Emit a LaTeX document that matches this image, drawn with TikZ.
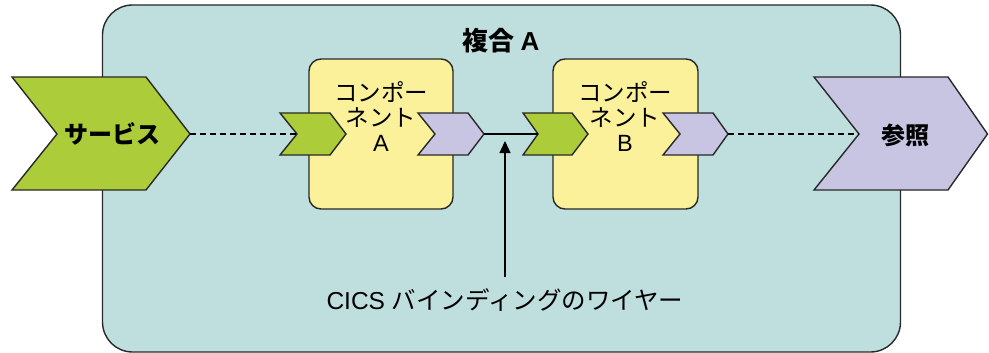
\documentclass[tikz,border=0pt]{standalone}
\usepackage{fontspec}
\setmainfont{Liberation Sans}
\newfontfamily\cjk{Noto Sans CJK JP}
\usetikzlibrary{arrows.meta}
\definecolor{compbg}{RGB}{191,223,223}
\definecolor{chgreen}{RGB}{173,204,58}
\definecolor{chpurple}{RGB}{200,197,226}
\definecolor{compyellow}{RGB}{251,241,155}
\definecolor{edge}{RGB}{40,40,40}
\begin{document}
\begin{tikzpicture}[x=1pt,y=-1pt,
  outline/.style={draw=edge,line width=1.4pt,line join=miter},
  greenchev/.style={outline,fill=chgreen},
  purplechev/.style={outline,fill=chpurple},
  compbox/.style={outline,fill=compyellow,rounded corners=12pt},
  complabel/.style={align=center,inner sep=0pt,font=\fontsize{23.5}{25}\selectfont},
  biglabel/.style={inner sep=0pt,font=\fontsize{24}{28}\selectfont\bfseries},
  wire/.style={draw=black,line width=1.3pt},
  dashwire/.style={wire,dash pattern=on 6pt off 4pt}]
\useasboundingbox (0,0) rectangle (989,353);
% composite
\draw[outline,fill=compbg,rounded corners=30pt] (102.5,5) rectangle (900.5,352);
\node[inner sep=0pt,font=\fontsize{26}{30}\selectfont\bfseries] (title) at (501,41) {\cjk 複合 \rmfamily A};
% component boxes
\draw[compbox] (309,59) rectangle (453,209);
\draw[compbox] (553,59) rectangle (698,209);
\node[complabel] (compA) at (381,117) {\cjk コンポー\\\cjk ネント\\A};
\node[complabel] (compB) at (625,117) {\cjk コンポー\\\cjk ネント\\B};
% service chevron
\draw[greenchev] (12,77) -- (146,77) -- (190,134) -- (146,190) -- (12,190) -- (57,134) -- cycle;
\coordinate (svcTip) at (190,134);
\node[biglabel] (svc) at (112,134) {\cjk サービス};
% reference chevron
\draw[purplechev] (814,77) -- (948,77) -- (987.5,134) -- (948,190) -- (814,190) -- (859,134) -- cycle;
\coordinate (refNotch) at (859,134);
\node[biglabel] (ref) at (905,135) {\cjk 参照};
% small chevrons
\draw[greenchev] (280,113) -- (330,113) -- (346,134) -- (330,155) -- (280,155) -- (297,134) -- cycle;
\coordinate (gANotch) at (297,134);
\draw[purplechev] (418,113) -- (468,113) -- (484,134) -- (468,155) -- (418,155) -- (435,134) -- cycle;
\coordinate (pATip) at (484,134);
\draw[greenchev] (523,113) -- (572,113) -- (588,134) -- (572,155) -- (523,155) -- (538,134) -- cycle;
\coordinate (gBNotch) at (538,134);
\draw[purplechev] (663,113) -- (713,113) -- (728,134) -- (713,155) -- (663,155) -- (680,134) -- cycle;
\coordinate (pBTip) at (728,134);
% connectors
\draw[dashwire] (svcTip) -- (gANotch);
\draw[wire] (pATip) -- (gBNotch);
\draw[dashwire] (pBTip) -- (refNotch);
% wire label
\node[inner sep=0pt,font=\fontsize{24.5}{28}\selectfont] (wlabel) at (505,300) {CICS \cjk バインディングのワイヤー};
\coordinate (wireHit) at (505,141);
\draw[wire,-{Triangle[length=12pt,width=11pt]}] (505,277) -- (wireHit);
\end{tikzpicture}
\end{document}
